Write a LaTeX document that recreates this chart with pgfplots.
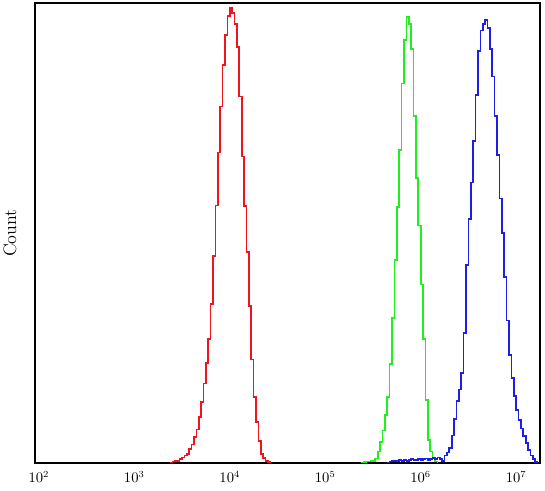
\documentclass[border=0pt]{standalone}
\usepackage{pgfplots}
\pgfplotsset{compat=1.18}
\definecolor{cred}{RGB}{240,20,30}
\definecolor{cgreen}{RGB}{30,240,30}
\definecolor{cblue}{RGB}{30,30,235}
\begin{document}
\begin{tikzpicture}
\begin{axis}[
  at={(0,0)}, anchor=south west,
  scale only axis,
  width=378.75pt, height=345pt,
  xmin=1.96, xmax=7.25,
  ymin=0, ymax=100,
  axis line style={line width=0.8pt},
  xtick={2,3,4,5,6,7},
  xticklabels={$10^{2}$,$10^{3}$,$10^{4}$,$10^{5}$,$10^{6}$,$10^{7}$},
  ytick=\empty,
  major tick length=0pt,
  xticklabel style={yshift=-2.5pt, font=\fontsize{10.5}{12}\selectfont},
  ylabel={Count},
  ylabel style={at={(axis description cs:-0.0495,0.5)}, anchor=center, font=\fontsize{13.5}{16}\selectfont},
  clip=true,
]
% red
\addplot[const plot, color=cred, line width=1.25pt] table {
3.375 0
3.400 0.3
3.425 0.4
3.450 0.5
3.475 0.8
3.500 1.2
3.525 1.6
3.550 2.0
3.575 3.0
3.600 4.0
3.625 5.6
3.650 7.3
3.675 10.0
3.700 13.2
3.725 17.3
3.750 21.8
3.775 26.9
3.800 34.5
3.825 45.0
3.850 56.0
3.875 67.5
3.900 77.5
3.925 86.5
3.950 93.0
3.975 97.2
4.000 98.9
4.025 97.8
4.050 95.5
4.075 90.5
4.100 79.7
4.125 66.6
4.150 55.9
4.175 45.8
4.200 34.2
4.225 22.5
4.250 14.3
4.275 8.9
4.300 4.8
4.325 2.0
4.350 1.1
4.375 0.4
4.400 0.2
4.425 0
};
% green
\addplot[const plot, color=cgreen, line width=1.25pt] table {
5.375 0
5.400 0.2
5.425 0.3
5.450 0.3
5.475 0.4
5.500 0.5
5.525 1.0
5.550 2.5
5.575 4.5
5.600 7.1
5.625 10.5
5.650 14.3
5.675 21.5
5.700 31.5
5.725 44.1
5.750 55.7
5.775 68.0
5.800 82.5
5.825 91.9
5.850 97.0
5.875 95.5
5.900 90.0
5.925 75.5
5.950 62.0
5.975 51.6
6.000 38.8
6.025 26.9
6.050 13.7
6.075 5.0
6.100 2.5
6.125 1.0
6.150 0.3
6.175 0
};
% blue
\addplot[const plot, color=cblue, line width=1.25pt] table {
5.650 0
5.675 0.3
5.700 0.4
5.725 0.5
5.750 0.4
5.775 0.6
5.800 0.5
5.825 0.7
5.850 0.5
5.875 0.6
5.900 0.8
5.925 0.6
5.950 0.7
5.975 0.9
6.000 0.6
6.025 0.8
6.050 1.0
6.075 0.7
6.100 0.9
6.125 1.1
6.150 0.8
6.175 1.2
6.200 0.9
6.225 0.5
6.250 1.6
6.275 2.3
6.300 3.2
6.325 6.0
6.350 9.5
6.375 13.5
6.400 16.0
6.425 19.5
6.450 28.2
6.475 43.0
6.500 53.0
6.525 61.0
6.550 70.0
6.575 80.0
6.600 89.5
6.625 94.0
6.650 95.5
6.675 96.3
6.700 94.5
6.725 90.0
6.750 84.0
6.775 75.5
6.800 67.0
6.825 57.5
6.850 50.0
6.875 40.5
6.900 31.0
6.925 23.5
6.950 18.5
6.975 14.5
7.000 11.5
7.025 9.3
7.050 7.5
7.075 5.9
7.100 4.3
7.125 2.8
7.150 1.6
7.175 0.8
7.200 0.2
7.225 0
};
\end{axis}
\pgfresetboundingbox
\path[use as bounding box] (-26.25pt,-21pt) rectangle (382.5pt,347.25pt);
\end{tikzpicture}
\end{document}
